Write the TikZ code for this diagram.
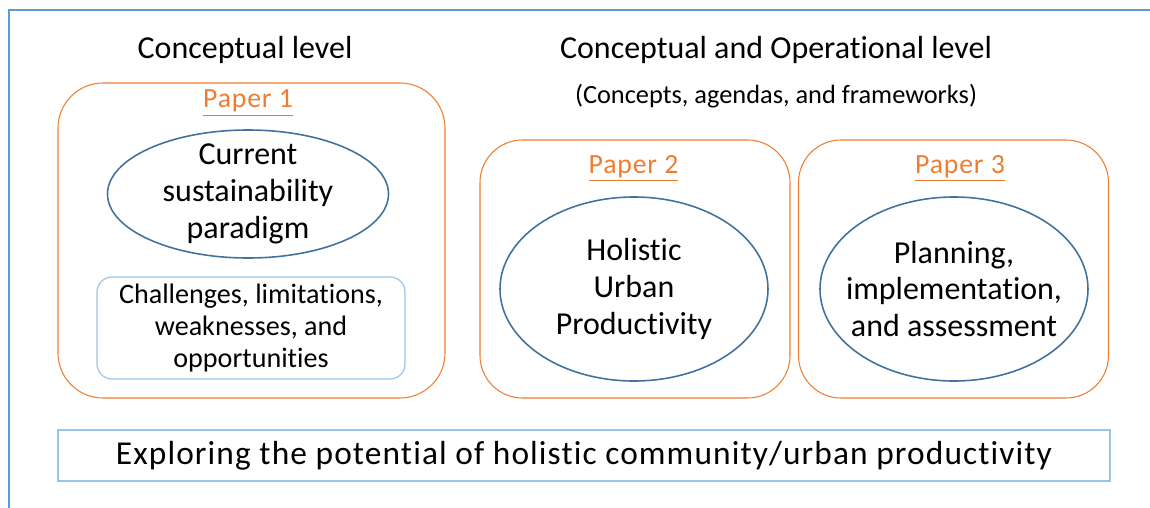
\documentclass[tikz,border=0pt]{standalone}
\usepackage{fontspec}
\setmainfont{Carlito}[Ligatures=CommonOff]
\usepackage{xcolor}
\usetikzlibrary{shapes,arrows,calc,positioning}
\definecolor{paperorange}{RGB}{237,125,49}
\definecolor{ovalblue}{RGB}{65,113,156}
\definecolor{frameblue}{RGB}{91,155,213}
\definecolor{lightblue}{RGB}{157,195,230}

\begin{document}
\begin{tikzpicture}[auto, node distance=2cm, font=\fontsize{18.2}{21}\selectfont]
\tikzset{%
  paperbox/.style = {%
    draw = paperorange,
    line width = .6pt,
    rounded corners = .85cm,
    minimum width = 6.2cm,
    minimum height = 5.16cm
  },
  oval/.style = {%
    draw = ovalblue,
    line width = .9pt,
    ellipse,
    inner sep = 0pt,
    minimum width = 5.36cm,
    minimum height = 3.68cm
  },
  papertitle/.style = {%
    text = paperorange,
    font = \fontsize{15.8}{18}\selectfont\addfontfeatures{LetterSpace=3}
  },
  plainbox/.style = {%
    draw = lightblue,
    line width = .7pt
  }
}
  \useasboundingbox (0,0) rectangle (23,-10.16);
  \draw[frameblue, line width=1.1pt] (0.18,-10.16) -- (0.18,-0.2) -- (23,-0.2);

  % level titles
  \node (conclevel) at (4.9,-1.0) {Conceptual level};
  \node (opslevel) at (15.52,-1.0) {Conceptual and Operational level};
  \node[font=\fontsize{15}{17}\selectfont, node distance=.92cm,
    below of=opslevel] (opsnote) {(Concepts, agendas, and frameworks)};

  % paper boxes
  \node[paperbox, minimum width=7.74cm, minimum height=6.3cm,
    rounded corners=.9cm] (paper1) at (5.03,-4.81) {};
  \node[paperbox] (paper2) at (12.7,-5.38) {};
  \node[paperbox, node distance=6.37cm, right of=paper2] (paper3) {};

  \node[papertitle] (p1title) at (4.96,-2.06) {\underline{Paper 1}};
  \node[papertitle] (p2title) at (12.67,-3.36) {\underline{Paper 2}};
  \node[papertitle] (p3title) at (19.2,-3.36) {\underline{Paper 3}};

  % paper 1
  \node[oval, minimum width=5.62cm, minimum height=2.56cm]
    (curpar) at (4.96,-3.88) {};
  \node[align=center] (curtext) at (curpar) {Current\\sustainability\\paradigm};
  \node[plainbox, rounded corners=.3cm, minimum width=6.16cm,
    minimum height=2.04cm, align=center,
    font=\fontsize{16}{18}\selectfont]
    (challenges) at (5.02,-6.56) {Challenges, limitations,\\weaknesses, and\\opportunities};

  % papers 2 and 3
  \node[oval] (holistic) at (12.68,-5.78) {};
  \node[align=center] (holtext) at (holistic) {Holistic\\Urban\\Productivity};
  \node[oval, node distance=6.4cm, right of=holistic] (planning) {};
  \node[align=center] (plantext) at (planning) {Planning,\\implementation,\\and assessment};

  % bottom line
  \node[plainbox, minimum width=21.04cm, minimum height=1.02cm,
    font=\fontsize{19}{21}\selectfont\addfontfeatures{LetterSpace=3.3}]
    (explore) at (11.68,-9.11) {Exploring the potential of holistic community/urban productivity};
\end{tikzpicture}
\end{document}
